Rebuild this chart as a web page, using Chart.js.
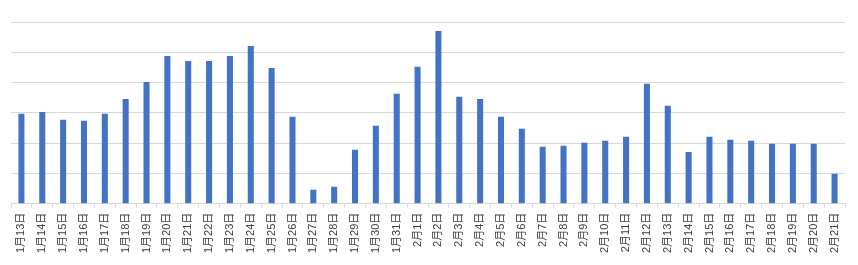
<!DOCTYPE html>
<html>
<head>
<meta charset="utf-8">
<script src="https://cdn.jsdelivr.net/npm/chart.js@4"></script>
<style>
html,body{margin:0;padding:0;background:#fff;}
#wrap{width:858px;height:265px;position:relative;}
</style>
</head>
<body>
<div id="wrap"><canvas id="c" width="858" height="265"></canvas></div>
<script>
const categories = [
  "1月13日","1月14日","1月15日","1月16日","1月17日","1月18日","1月19日","1月20日","1月21日","1月22日",
  "1月23日","1月24日","1月25日","1月26日","1月27日","1月28日","1月29日","1月30日","1月31日","2月1日",
  "2月2日","2月3日","2月4日","2月5日","2月6日","2月7日","2月8日","2月9日","2月10日","2月11日",
  "2月12日","2月13日","2月14日","2月15日","2月16日","2月17日","2月18日","2月19日","2月20日","2月21日"
];
const values = [
  29.7,30.3,27.7,27.4,29.7,34.6,40.2,48.8,47.1,47.1,
  48.8,52.1,44.8,28.7,4.6,5.6,17.8,25.7,36.3,45.2,
  57.0,35.3,34.6,28.7,24.7,18.8,19.1,20.1,20.8,22.1,
  39.6,32.3,17.1,22.1,21.1,20.8,19.8,19.8,19.8,9.9
];
const yMax = 60;
const yStep = 10;

new Chart(document.getElementById('c'), {
  type: 'bar',
  data: {
    labels: categories,
    datasets: [{
      data: values,
      backgroundColor: '#4472C4',
      borderWidth: 0,
      categoryPercentage: 1.0,
      barPercentage: 0.29
    }]
  },
  options: {
    responsive: false,
    animation: false,
    devicePixelRatio: 1,
    layout: { padding: { left: 11, right: 13, top: 22, bottom: 7 } },
    plugins: { legend: { display: false }, tooltip: { enabled: false } },
    scales: {
      x: {
        offset: true,
        grid: { display: true, offset: true, drawOnChartArea: false, drawTicks: true, tickLength: 4, color: '#d9d9d9', lineWidth: 1 },
        border: { display: true, color: '#d9d9d9', width: 1 },
        ticks: {
          autoSkip: false, minRotation: 90, maxRotation: 90, padding: 5,
          color: '#404040',
          font: { family: "'Liberation Sans','Noto Sans CJK JP',sans-serif", size: 11 }
        }
      },
      y: {
        min: 0, max: yMax,
        grid: { color: '#d9d9d9', lineWidth: 1, drawTicks: false },
        border: { display: false },
        ticks: { display: false, stepSize: yStep }
      }
    }
  }
});
</script>
</body>
</html>
